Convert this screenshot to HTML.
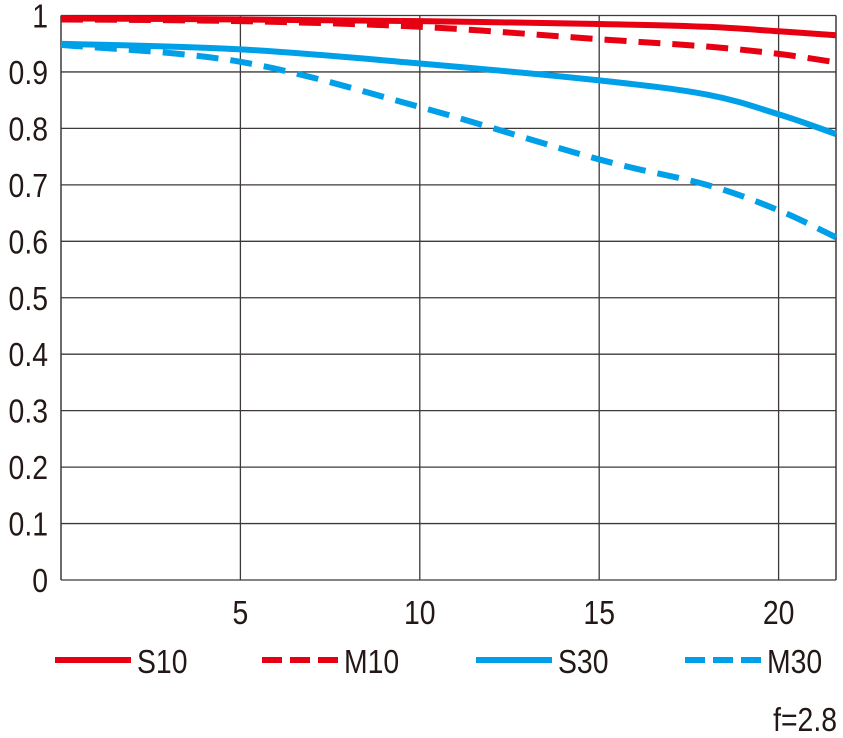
<!DOCTYPE html>
<html><head><meta charset="utf-8"><style>
html,body{margin:0;padding:0;background:#fff;}
svg{display:block;}
text{font-family:"Liberation Sans Narrow","Liberation Sans",sans-serif;fill:#231815;}
</style></head><body>
<svg id="chart" width="843" height="738"></svg>
<script>
const xTicks=[5,10,15,20];
const yTicks=[0,0.1,0.2,0.3,0.4,0.5,0.6,0.7,0.8,0.9,1];
const yTickLabels=["0","0.1","0.2","0.3","0.4","0.5","0.6","0.7","0.8","0.9","1"];
const xs=[0,5,10,15,18,20,21.6];
const s10=[0.995,0.993,0.99,0.985,0.98,0.972,0.965];
const m10=[0.993,0.99,0.98,0.958,0.945,0.932,0.917];
const s30=[0.95,0.94,0.915,0.885,0.86,0.825,0.79];
const m30=[0.948,0.918,0.838,0.745,0.70,0.655,0.607];
const seriesNames=["S10","M10","S30","M30"];

const NS="http://www.w3.org/2000/svg";
const svg=document.getElementById('chart');
const X0=61,X1=836,Y0=580,Y1=15.5,XMAX=21.6;
const sx=v=>X0+v/XMAX*(X1-X0);
const sy=v=>Y0-v*(Y0-Y1);
function mk(tag,attrs){const e=document.createElementNS(NS,tag);for(const k in attrs)e.setAttribute(k,attrs[k]);svg.appendChild(e);return e;}
function txt(x,y,anchor,size,str){
  const t=mk('text',{x:0,y:0,'font-size':size,'text-anchor':anchor,transform:`translate(${x},${y}) scale(0.86,1)`});
  t.textContent=str;return t;
}

yTicks.forEach((t,i)=>{
  const l=mk('line',{x1:X0,x2:X1,y1:sy(t),y2:sy(t),stroke:'#3e3a39','stroke-width':1.3});
  
  
  const tx=txt(48,sy(t)+12,'end',33,yTickLabels[i]);
  
  
});
xTicks.forEach(t=>{
  const l=mk('line',{x1:sx(t),x2:sx(t),y1:Y1,y2:Y0,stroke:'#3e3a39','stroke-width':1.3});
  
  
  const tx=txt(sx(t),624,'middle',33,String(t));
  
  
});
[X0,X1].forEach(x=>{
  const l=mk('line',{x1:x,x2:x,y1:Y1,y2:Y0,stroke:'#3e3a39','stroke-width':1.5});
  
  
});

function pathFor(vals){
  const p=xs.map((x,i)=>[sx(x),sy(vals[i])]);
  let d=`M${p[0][0]},${p[0][1]}`;
  for(let i=0;i<p.length-1;i++){
    const a=p[Math.max(0,i-1)],b=p[i],c=p[i+1],e=p[Math.min(p.length-1,i+2)];
    const c1=[b[0]+(c[0]-a[0])/6,b[1]+(c[1]-a[1])/6];
    const c2=[c[0]-(e[0]-b[0])/6,c[1]-(e[1]-b[1])/6];
    d+=` C${c1[0]},${c1[1]} ${c2[0]},${c2[1]} ${c[0]},${c[1]}`;
  }
  return d;
}
const RED='#e60012',BLUE='#00a0e9';
const defs=[[s10,RED,null],[m10,RED,'22 12'],[s30,BLUE,null],[m30,BLUE,'22 12']];
defs.forEach((s,i)=>{
  const a={d:pathFor(s[0]),fill:'none',stroke:s[1],'stroke-width':6};
  if(s[2])a['stroke-dasharray']=s[2];
  const p=mk('path',a);
  
  
});

const legX=[55,262,476,685];
defs.forEach((s,i)=>{
  const a={x1:legX[i],x2:legX[i]+76,y1:660,y2:660,stroke:s[1],'stroke-width':6};
  if(s[2])a['stroke-dasharray']='20 8';
  const l=mk('line',a);
  
  
  const t=txt(legX[i]+82,673,'start',33,seriesNames[i]);
  
  
});
const f=txt(837,731,'end',33,'f=2.8');


</script>
</body></html>
